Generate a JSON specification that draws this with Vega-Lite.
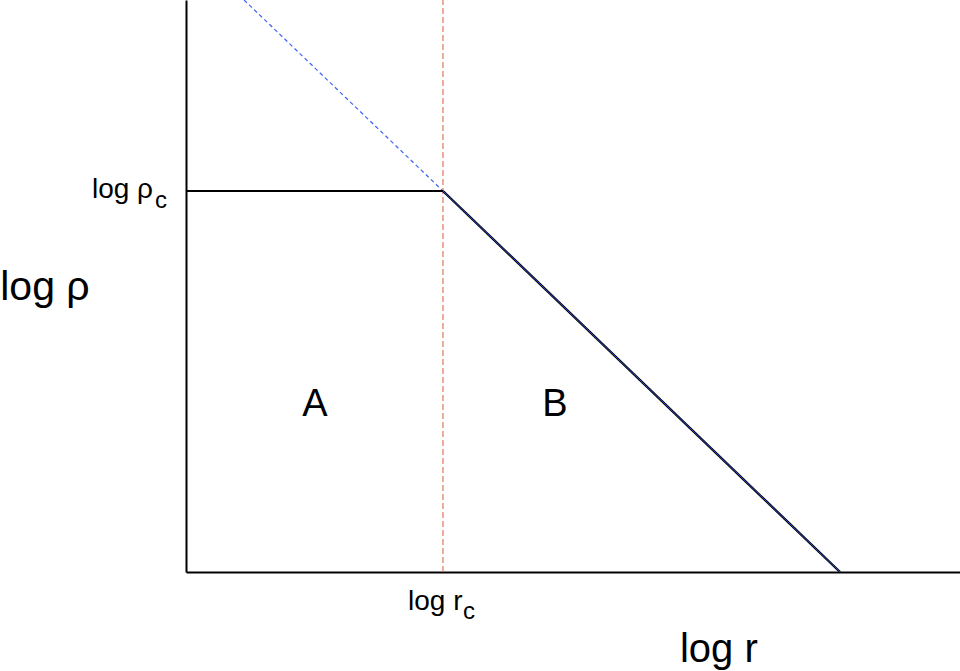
{
  "$schema": "https://vega.github.io/schema/vega-lite/v6.json",
  "autosize": {"type": "none"},
  "width": 774,
  "height": 572,
  "padding": {"left": 186, "top": 0, "right": 0, "bottom": 99},
  "background": "white",
  "config": {"view": {"stroke": null}, "font": "Liberation Sans"},
  "datasets": {
    "flat": [{"x": 0, "y": 6.661}, {"x": 3.32, "y": 6.661}],
    "slope": [{"x": 3.32, "y": 6.661}, {"x": 8.45, "y": 0}],
    "dash": [{"x": 0.75, "y": 10}, {"x": 3.32, "y": 6.661}],
    "vert": [{"x": 3.32, "y": 0}, {"x": 3.32, "y": 10}],
    "rightLabels": [
      {"x": -0.426, "y": 6.538, "t": "log ρ", "s": 28}
    ],
    "leftLabels": [
      {"x": -0.401, "y": 6.364, "t": "c", "s": 24},
      {"x": -2.40, "y": 4.755, "t": "log ρ", "s": 41},
      {"x": 2.868, "y": -0.664, "t": "log r", "s": 28},
      {"x": 3.579, "y": -0.822, "t": "c", "s": 24},
      {"x": 6.382, "y": -1.573, "t": "log r", "s": 40}
    ],
    "centerLabels": [
      {"x": 1.667, "y": 2.727, "t": "A", "s": 38},
      {"x": 4.767, "y": 2.727, "t": "B", "s": 38}
    ]
  },
  "encoding": {
    "x": {"field": "x", "type": "quantitative", "scale": {"domain": [0, 10], "nice": false, "zero": false}},
    "y": {"field": "y", "type": "quantitative", "scale": {"domain": [0, 10], "nice": false, "zero": false}}
  },
  "layer": [
    {
      "data": {"name": "vert"},
      "mark": {"type": "line", "color": "#e07560", "strokeWidth": 1.2, "strokeDash": [6, 3]},
      "encoding": {
        "x": {"field": "x", "type": "quantitative", "axis": {"orient": "bottom", "domain": true, "domainColor": "black", "domainWidth": 2, "ticks": false, "labels": false, "grid": false, "title": null}},
        "y": {"field": "y", "type": "quantitative", "axis": {"orient": "left", "domain": true, "domainColor": "black", "domainWidth": 2, "ticks": false, "labels": false, "grid": false, "title": null}}
      }
    },
    {
      "data": {"name": "dash"},
      "mark": {"type": "line", "color": "#3f63f5", "strokeWidth": 1.2, "strokeDash": [4, 3]},
      "encoding": {}
    },
    {
      "data": {"name": "flat"},
      "mark": {"type": "line", "color": "black", "strokeWidth": 2.2},
      "encoding": {}
    },
    {
      "data": {"name": "slope"},
      "mark": {"type": "line", "color": "black", "strokeWidth": 2.4},
      "encoding": {}
    },
    {
      "data": {"name": "slope"},
      "mark": {"type": "line", "color": "#2a46c8", "strokeWidth": 1},
      "encoding": {}
    },
    {
      "data": {"name": "rightLabels"},
      "mark": {"type": "text", "baseline": "alphabetic", "align": "right", "color": "black", "clip": false},
      "encoding": {
        "text": {"field": "t"},
        "size": {"field": "s", "type": "quantitative", "scale": null}
      }
    },
    {
      "data": {"name": "leftLabels"},
      "mark": {"type": "text", "baseline": "alphabetic", "align": "left", "color": "black", "clip": false},
      "encoding": {
        "text": {"field": "t"},
        "size": {"field": "s", "type": "quantitative", "scale": null}
      }
    },
    {
      "data": {"name": "centerLabels"},
      "mark": {"type": "text", "baseline": "alphabetic", "align": "center", "color": "black", "clip": false},
      "encoding": {
        "text": {"field": "t"},
        "size": {"field": "s", "type": "quantitative", "scale": null}
      }
    }
  ]
}
